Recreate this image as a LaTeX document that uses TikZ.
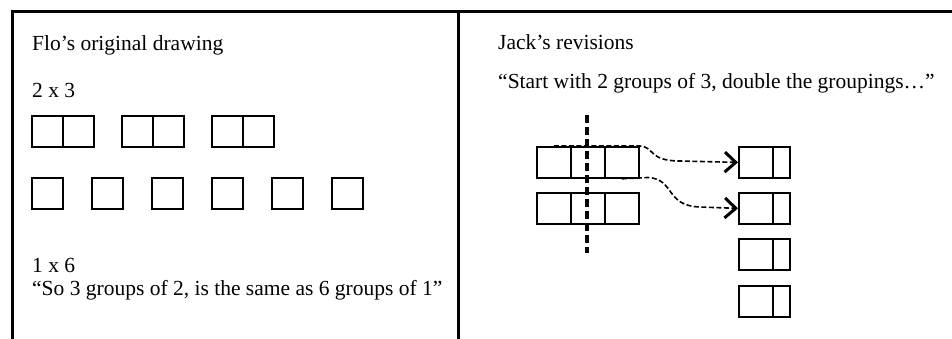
\documentclass[tikz,border=0pt]{standalone}
\usepackage{fontspec}
\setmainfont{Liberation Serif}
\usetikzlibrary{arrows.meta}
\begin{document}
\begin{tikzpicture}[x=1pt,y=-1pt,
  frame/.style={line width=3pt},
  txt/.style={anchor=base west,inner sep=0pt,font=\fontsize{21.5}{25}\selectfont},
  cell/.style={draw,line width=1.8pt,anchor=north west,inner sep=0pt,minimum width=31pt,minimum height=31pt},
  tcell/.style={cell,minimum width=34pt},
  ncell/.style={cell,minimum width=17pt},
  cutline/.style={line width=3.5pt,dash pattern=on 8pt off 4pt},
  move/.style={line width=1.6pt,dash pattern=on 5pt off 2.5pt,
    -{Straight Barb[length=11pt,width=20pt,line width=3pt]}}]
\useasboundingbox (0,0) rectangle (952,339);
\fill[white] (0,0) rectangle (952,339);
% frame
\coordinate (fbl) at (12,339);
\coordinate (ftl) at (12,12);
\coordinate (ftr) at (952,12);
\coordinate (dtop) at (458,12);
\coordinate (dbot) at (458,339);
\draw[frame,line join=miter] (fbl) -- (ftl) -- (ftr);
\draw[frame] (dtop) -- (dbot);
% left panel text
\node[txt] (t1) at (32,51) {Flo’s original drawing};
\node[txt] (t2) at (32,98) {2 x 3};
\node[txt] (t3) at (32,272) {1 x 6};
\node[txt] (t4) at (32,295) {“So 3 groups of 2, is the same as 6 groups of 1”};
% 3 groups of 2
\foreach \i/\x in {1/31,2/121,3/211}{
  \node[cell] (p\i a) at (\x,115) {};
  \node[cell] (p\i b) at (\x+31,115) {};
}
% 6 groups of 1
\foreach \i/\x in {1/31,2/91,3/151,4/211,5/271,6/331}{
  \node[cell] (s\i) at (\x,177) {};
}
% right panel text
\node[txt] (t5) at (498,50) {Jack’s revisions};
\node[txt] (t6) at (498,89) {“Start with 2 groups of 3, double the groupings…”};
% 2 groups of 3
\foreach \r/\y in {1/146,2/192}{
  \node[tcell] (a\r1) at (536,\y) {};
  \node[tcell] (a\r2) at (570,\y) {};
  \node[tcell] (a\r3) at (604,\y) {};
}
% 4 groups
\foreach \r/\y in {1/146,2/192,3/238,4/285}{
  \node[tcell] (b\r w) at (738,\y) {};
  \node[ncell] (b\r n) at (772,\y) {};
}
% cut line
\coordinate (ct) at (587,115);
\coordinate (cb) at (587,253);
\draw[cutline] (ct) -- (cb);
% arrows
\draw[move] (a11.north) -- (a13.north east) .. controls (655,147) and (648,161) .. (680,161) -- (b1w.west);
\draw[move] (a13.south) -- (648,177.5) .. controls (675,179) and (665,206) .. (700,207) -- (b2w.west);
\end{tikzpicture}
\end{document}
